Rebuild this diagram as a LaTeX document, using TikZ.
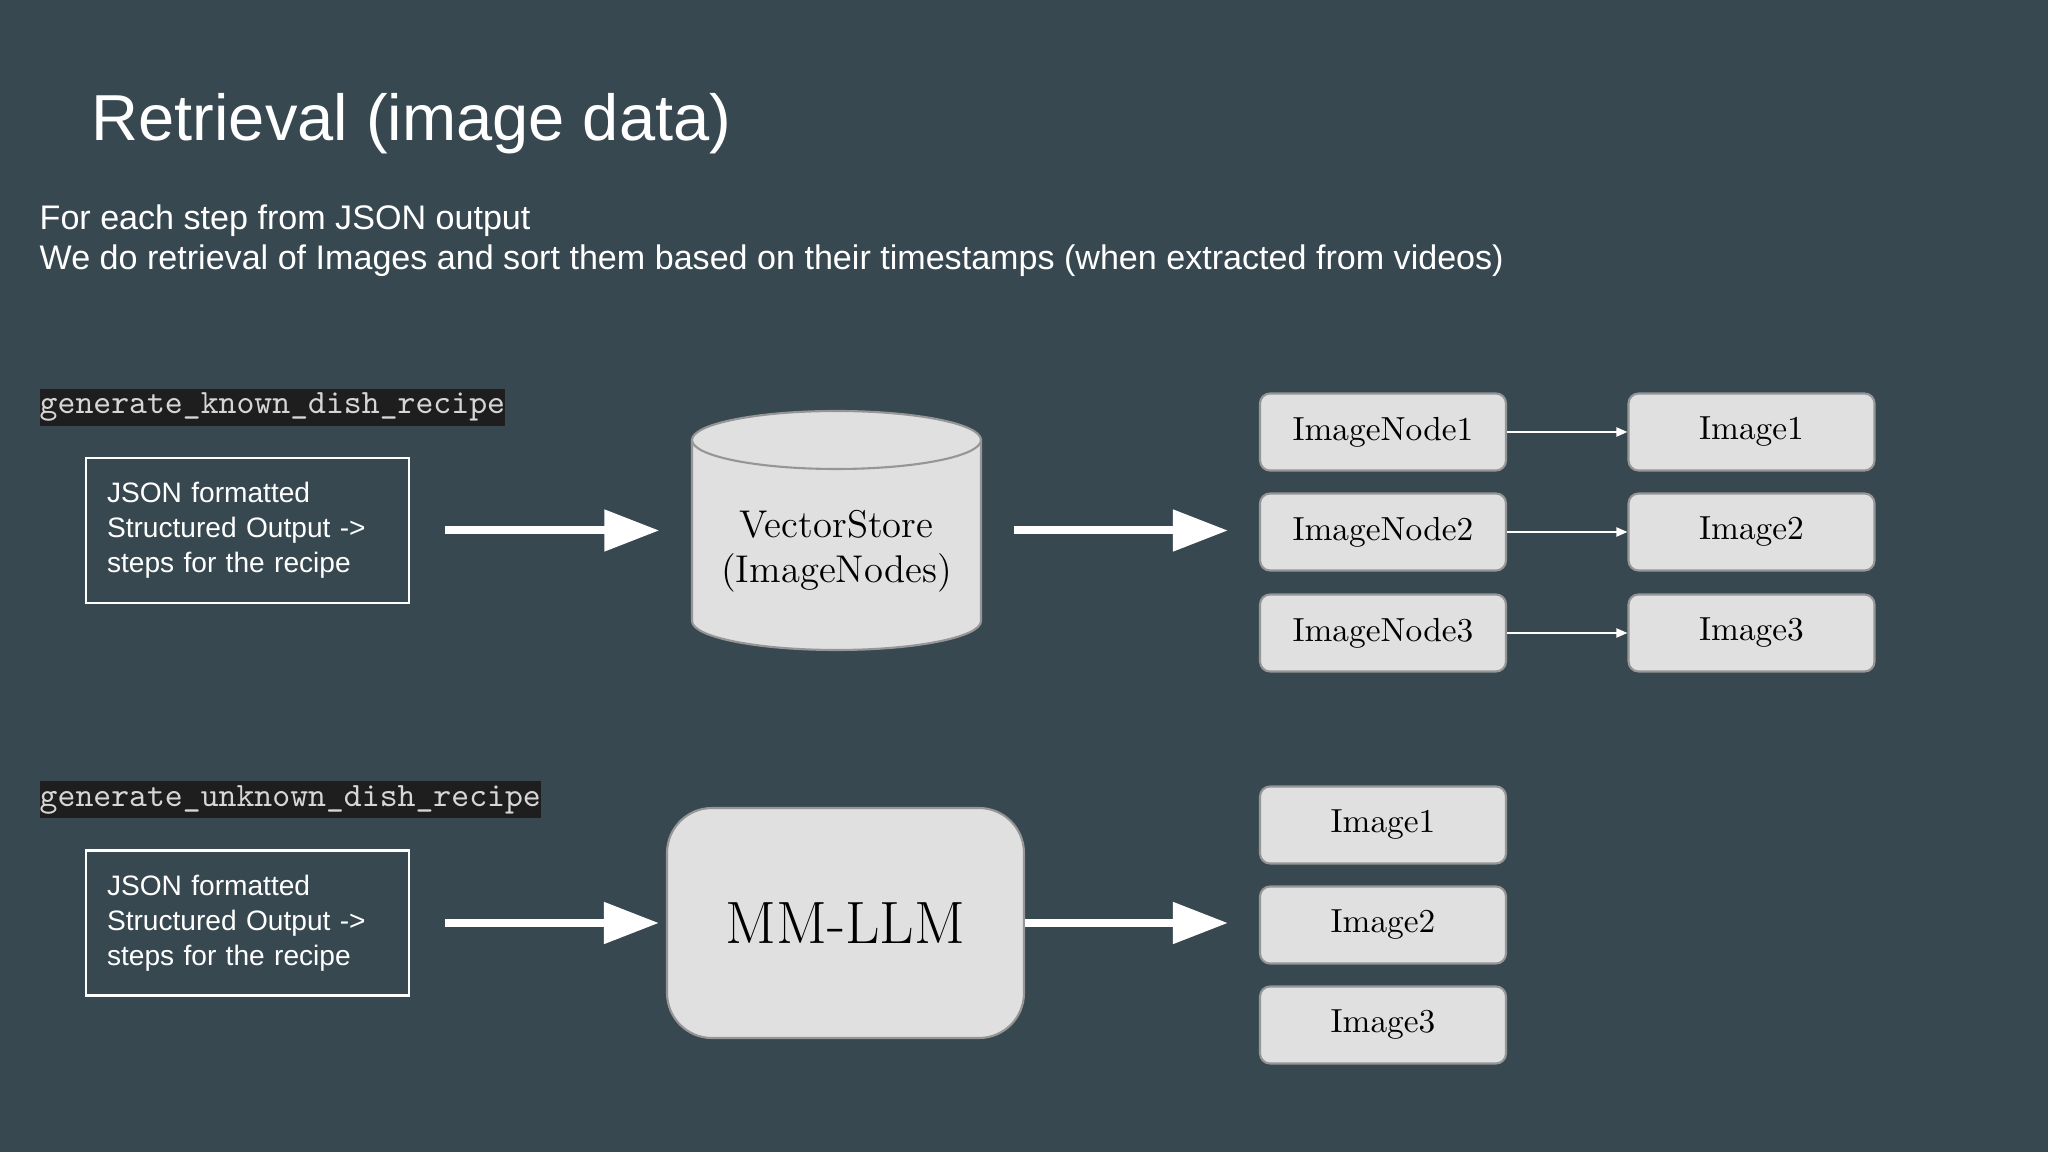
\documentclass[tikz,border=0pt]{standalone}
\usepackage{fontspec}
\setsansfont{Liberation Sans}
\usetikzlibrary{arrows.meta}
\definecolor{slate}{RGB}{56,72,80}
\definecolor{boxgray}{RGB}{224,224,224}
\definecolor{edgegray}{RGB}{150,150,150}
\definecolor{codebg}{RGB}{30,30,30}
\definecolor{codefg}{RGB}{214,214,214}
\begin{document}
\begin{tikzpicture}[x=0.1mm,y=-0.1mm,
  card/.style={draw=edgegray,fill=boxgray,line width=0.6pt,rounded corners=1mm,
    minimum width=24.6mm,minimum height=7.7mm,text=black,font=\fontsize{9.5}{11}\selectfont},
  jsonbox/.style={draw=white,line width=0.7pt,minimum width=32.3mm,minimum height=14.5mm,
    text width=28.1mm,inner xsep=2.1mm,align=left,text=white,font=\sffamily\fontsize{8}{10}\selectfont},
  codelabel/.style={fill=codebg,text=codefg,anchor=west,inner xsep=0pt,inner ysep=0pt,
    minimum height=3.7mm,font=\ttfamily\fontsize{9.7}{11}\selectfont},
  bigarrow/.style={draw=white,line width=0.8mm,-{Triangle[length=5.5mm,width=4mm]}},
  thinarrow/.style={draw=white,line width=0.2mm,-{Triangle[length=1.1mm,width=0.9mm]}}]
% slide
\fill[slate] (0,0) rectangle (2048,1152);
\node[anchor=base west,inner sep=0,text=white,font=\sffamily\fontsize{18.5}{22}\selectfont]
  (title) at (91,141) {Retrieval (image data)};
\node[anchor=base west,inner sep=0,text=white,font=\sffamily\fontsize{9.7}{12}\selectfont]
  (intro1) at (39,230) {For each step from JSON output};
\node[anchor=base west,inner sep=0,text=white,font=\sffamily\fontsize{9.7}{12}\selectfont]
  (intro2) at (39,270) {We do retrieval of Images and sort them based on their timestamps (when extracted from videos)};
% known dish
\node[codelabel] (knownfn) at (39,407.5) {generate\_known\_dish\_recipe};
\node[jsonbox] (query1) at (247.5,530.5) {JSON formatted\\Structured Output ->\\steps for the recipe};
\draw[draw=edgegray,fill=boxgray,line width=0.6pt]
  (692,440) -- (692,621) arc[start angle=180,end angle=0,x radius=144.5,y radius=29] -- (981,440) -- cycle;
\draw[draw=edgegray,fill=boxgray,line width=0.6pt] (836.5,440) ellipse[x radius=144.5,y radius=29];
\node[minimum width=28.9mm,minimum height=23.9mm,inner sep=0] (store) at (836.5,530.5) {};
\node[align=center,text=black,font=\fontsize{11}{12.8}\selectfont] (storelabel) at (836.5,551)
  {VectorStore\\(ImageNodes)};
\node[card] (node1) at (1383,432) {ImageNode1};
\node[card] (node2) at (1383,532) {ImageNode2};
\node[card] (node3) at (1383,633) {ImageNode3};
\node[card] (image1) at (1751.5,432) {Image1};
\node[card] (image2) at (1751.5,532) {Image2};
\node[card] (image3) at (1751.5,633) {Image3};
\draw[bigarrow,shorten <=3.5mm,shorten >=3.2mm] (query1) -- (store);
\draw[bigarrow,shorten <=3.2mm,shorten >=3.1mm] (store) -- (store -| node2.west);
\draw[thinarrow] (node1) -- (image1);
\draw[thinarrow] (node2) -- (image2);
\draw[thinarrow] (node3) -- (image3);
% unknown dish
\node[codelabel] (unknownfn) at (39,799.5) {generate\_unknown\_dish\_recipe};
\node[jsonbox] (query2) at (247.5,923) {JSON formatted\\Structured Output ->\\steps for the recipe};
\node[draw=edgegray,fill=boxgray,line width=0.6pt,rounded corners=4.5mm,minimum width=35.7mm,
  minimum height=23mm,text=black,font=\fontsize{17}{20}\selectfont] (llm) at (845.5,923) {MM-LLM};
\node[card] (pic1) at (1383,825) {Image1};
\node[card] (pic2) at (1383,925) {Image2};
\node[card] (pic3) at (1383,1025) {Image3};
\draw[bigarrow,shorten <=3.5mm,shorten >=0.7mm] (query2) -- (llm);
\draw[bigarrow,shorten >=3.1mm] (llm) -- (llm -| pic2.west);
\end{tikzpicture}
\end{document}
